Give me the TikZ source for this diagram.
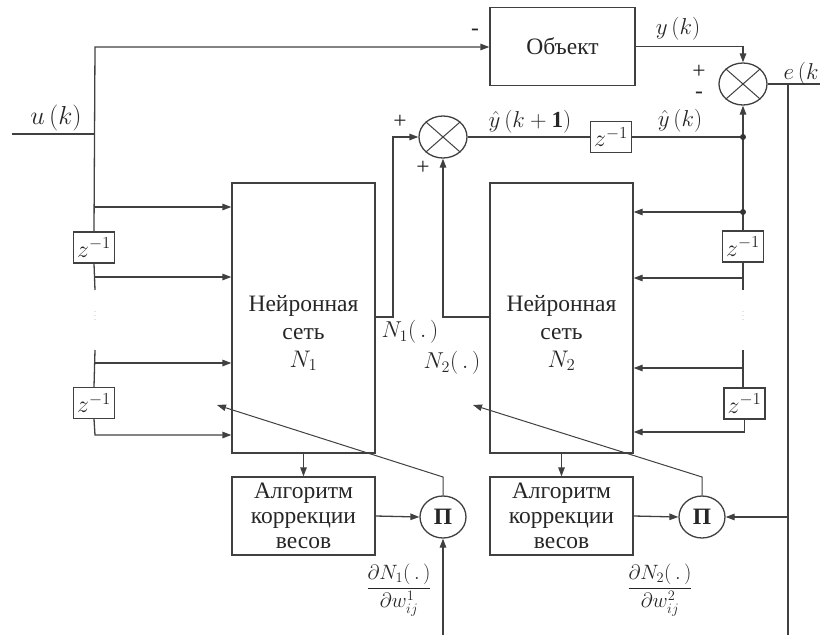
\RequirePackage{fix-cm}
\documentclass[tikz,border=0pt]{standalone}
\usepackage{amsmath}
\usepackage{fontspec}
\setmainfont{Liberation Serif}
\newfontfamily\serifcyr{Liberation Serif}
\usetikzlibrary{arrows.meta,shapes.geometric,calc}
\begin{document}
\begin{tikzpicture}[x=1pt,y=-1pt,
  color=black!75, line width=1.3pt,
  every node/.style={font=\serifcyr\fontsize{23.5}{28}\selectfont, text=black!85},
  mth/.style={font=\fontsize{23}{28}\selectfont},
  blk/.style={draw, rectangle, inner sep=0pt},
  sum/.style={draw, ellipse, minimum width=48pt, minimum height=42pt, inner sep=0pt},
  zbox/.style={draw, rectangle, minimum width=41pt, minimum height=31pt, inner sep=0pt, font=\fontsize{24}{26}\selectfont},
  arr/.style={-{Triangle[length=9pt,width=6.5pt]}},
  jdot/.style={circle, fill=black!80, inner sep=0pt, minimum size=6pt},
  vdts/.style={text=black!35, font=\fontsize{8}{8}\selectfont}
]
\useasboundingbox (0,0) rectangle (820,635);

% blocks
\node[blk, minimum width=145pt, minimum height=78pt] (obj) at (562.5,46.5) {Объект};
\node[sum] (s1) at (743,84) {};
\node[sum] (s2) at (443,137) {};
\node[zbox] (zt) at (611,137) {$z^{-1}$};
\node[blk, minimum width=143pt, minimum height=270pt] (N1) at (303.5,318) {};
\node[blk, minimum width=143pt, minimum height=270pt] (N2) at (561.5,318) {};
\node[blk, minimum width=143pt, minimum height=78pt, align=center, font=\serifcyr\fontsize{23.5}{25}\selectfont] (A1) at (303.5,516) {Алгоритм\\коррекции\\весов};
\node[blk, minimum width=143pt, minimum height=78pt, align=center, font=\serifcyr\fontsize{23.5}{25}\selectfont] (A2) at (561.5,516) {Алгоритм\\коррекции\\весов};
\node[sum, minimum width=46pt] (P1) at (443,517) {\textbf{П}};
\node[sum, minimum width=46pt] (P2) at (702,517) {\textbf{П}};
\node[zbox] (zl1) at (94,247.5) {$z^{-1}$};
\node[zbox] (zl2) at (94,403) {$z^{-1}$};
\node[zbox] (zr1) at (743,246.5) {$z^{-1}$};
\node[zbox] (zr2) at (744.5,403.5) {$z^{-1}$};

% sum crosses
\foreach \s in {s1,s2}{
  \draw[line width=1pt] (\s.north west) -- (\s.south east) (\s.north east) -- (\s.south west);
}

% coordinates
\coordinate (uin) at (12,134);
\coordinate (ljoin) at (95,134);
\coordinate (ltop) at (95,47);
\coordinate (la) at (95,207);
\coordinate (lb) at (95,277);
\coordinate (lgap1) at (95,290);
\coordinate (lgap2) at (95,350);
\coordinate (lc) at (95,363);
\coordinate (lbot) at (95,435);
\coordinate (eout) at (820,84);
\coordinate (ebr) at (788,84);
\coordinate (ebot) at (788,635);
\coordinate (ep2) at (788,517);
\coordinate (yk) at (743,137);
\coordinate (rb1) at (743,212);
\coordinate (rb2) at (743,278);
\coordinate (rgap1) at (743,290);
\coordinate (rgap2) at (743,350);
\coordinate (rb3) at (743,368);
\coordinate (rbot) at (744.5,432);
\coordinate (n1c) at (393,317);
\coordinate (n1t) at (393,137);
\coordinate (n2c) at (443,317);
\coordinate (p1b) at (443,635);
\coordinate (p1k) at (443,477);
\coordinate (p1t) at (217,405);
\coordinate (p2k) at (702,477);
\coordinate (p2t) at (473,405);

% left input chain
\draw (uin) -- (ljoin);
\draw[arr] (zl1.north) -- (ltop) -- (ltop -| obj.west);
\draw (zl1.south) -- (lgap1);
\draw (lgap2) -- (zl2.north);
\draw[arr] (zl2.south) -- (lbot) -- (lbot -| N1.west);
\draw[arr] (la) -- (la -| N1.west);
\draw[arr] (lb) -- (lb -| N1.west);
\draw[arr] (lc) -- (lc -| N1.west);
\node[vdts] at (95,313) {$\vdots$};

% object to comparator
\draw[arr] (obj.east) -- (obj.east -| s1.north) -- (s1.north);
\draw (s1.east) -- (eout);
\draw (ebr) -- (ebot);
\draw[arr] (ep2) -- (P2.east);

% model output chain
\draw (s2.east) -- (zt.west);
\draw (zt.east) -- (yk);
\draw[arr] (yk) -- (s1.south);
\draw (yk) -- (zr1.north);
\draw[arr] (rb1) -- (rb1 -| N2.east);
\draw (zr1.south) -- (rgap1);
\draw[arr] (rb2) -- (rb2 -| N2.east);
\draw (rgap2) -- (rgap2 |- zr2.north);
\draw[arr] (rb3) -- (rb3 -| N2.east);
\draw[arr] (zr2.south) -- (rbot) -- (rbot -| N2.east);
\node[jdot] at (yk) {};
\node[jdot] at (rb1) {};
\node[vdts] at (743,313) {$\vdots$};

% network outputs to sum
\draw[arr] (N1.east |- n1c) -- (n1c) -- (n1t) -- (s2.west);
\draw[arr] (N2.west |- n2c) -- (n2c) -- (s2.south);

% correction
\draw[arr] (N1.south) -- (A1.north);
\draw[arr] (N2.south) -- (A2.north);
\draw[arr] (A1.east) -- (P1.west);
\draw[arr] (A2.east) -- (P2.west);
\draw[arr] (p1b) -- (P1.south);
\draw[arr, line width=1pt] (P1.north) -- (p1k) -- (p1t);
\draw[arr, line width=1pt] (P2.north) -- (p2k) -- (p2t);

% labels
\node at (475,32) {-};
\node[mth] at (678,29) {$y\,(k)$};
\node at (699,72) {+};
\node at (699,95) {-};
\node[mth, anchor=west, inner sep=0pt] at (783,74) {$e\,(k$};
\node[mth] at (530,122) {$\hat y\,(k+\mathbf{1})$};
\node[mth] at (680,121) {$\hat y\,(k)$};
\node at (400,122) {+};
\node at (423,168) {+};
\node[font=\fontsize{26}{28}\selectfont] at (56,118) {$u\,(k)$};
\node[mth] at (410,332) {$N_1(\,.\,)$};
\node[mth] at (452,363) {$N_2(\,.\,)$};
\node[align=center] at (303.5,333) {Нейронная\\сеть\\{\fontsize{24}{28}\selectfont$N_1$}};
\node[align=center] at (561.5,333) {Нейронная\\сеть\\{\fontsize{24}{28}\selectfont$N_2$}};
\node[font=\fontsize{20.74}{22}\selectfont] at (399,590) {$\dfrac{\partial N_1(\,.\,)}{\partial w_{ij}^{1}}$};
\node[font=\fontsize{20.74}{22}\selectfont] at (660,590) {$\dfrac{\partial N_2(\,.\,)}{\partial w_{ij}^{2}}$};
\end{tikzpicture}
\end{document}
